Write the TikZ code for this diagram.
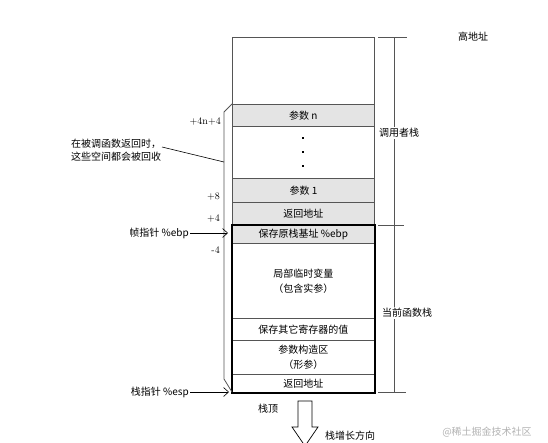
\documentclass[tikz,border=0pt]{standalone}
\usepackage{fontspec}
\newfontfamily\cjk{Noto Sans CJK SC}
\usetikzlibrary{arrows.meta}
\definecolor{cellgray}{HTML}{E4E4E4}
\definecolor{linegray}{HTML}{555555}
\tikzset{
  cell/.style={draw=linegray, line width=0.8pt, minimum width=142pt, inner sep=0pt, anchor=north west, font=\cjk\fontsize{10}{15}\selectfont, align=center},
  gcell/.style={cell, fill=cellgray},
  lbl/.style={font=\cjk\fontsize{10}{13}\selectfont, inner sep=1pt},
  off/.style={font=\fontsize{10}{10}\selectfont, anchor=east, inner sep=0pt},
  ptr/.style={draw=black, line width=0.6pt, -{Straight Barb[length=5pt,width=9pt]}},
  brk/.style={draw=linegray, line width=0.8pt}
}
\begin{document}
\begin{tikzpicture}[x=1pt,y=-1pt]
\useasboundingbox (0,0) rectangle (548,442);
% caller stack cells
\node[cell, minimum height=67pt] (top) at (232,37) {};
\node[gcell, minimum height=22pt] (pn) at (232,104) {参数 n};
\node[cell, minimum height=52pt] (dots) at (232,126) {};
\node[gcell, minimum height=24pt] (p1) at (232,178) {参数 1};
\node[gcell, minimum height=23pt] (ra1) at (232,202) {返回地址};
% current frame cells
\node[gcell, minimum height=18pt] (ebp) at (232,225) {保存原栈基址 \%ebp};
\node[cell, minimum height=75pt] (loc) at (232,243) {局部临时变量\\（包含实参）};
\node[cell, minimum height=22pt] (regs) at (232,318) {保存其它寄存器的值};
\node[cell, minimum height=34pt] (args) at (232,340) {参数构造区\\（形参）};
\node[cell, minimum height=18pt] (ra2) at (232,374) {返回地址};
\draw[line width=2.6pt] (ebp.north west) rectangle (ra2.south east);
% dots
\foreach \yy in {138,152,166} \fill (302,\yy-1) rectangle (304,\yy+1);
% right brackets
\coordinate (t1a) at (378,37); \coordinate (t1b) at (407,37);
\coordinate (t2a) at (378,225); \coordinate (t2b) at (404,225);
\coordinate (t3a) at (378,392); \coordinate (t3b) at (406,392);
\coordinate (v1) at (394,37); \coordinate (v2) at (394,225); \coordinate (v3) at (394,392);
\draw[brk] (t1a) -- (t1b) (t2a) -- (t2b) (t3a) -- (t3b) (v1) -- (v3);
\node[lbl, fill=white] (caller) at (399,133) {调用者栈};
\node[lbl, fill=white] (cur) at (407,313) {当前函数栈};
\node[lbl] (high) at (473,37) {高地址};
% left bracket
\coordinate (l1) at (232,104); \coordinate (l2) at (224,112);
\coordinate (l3) at (224,379); \coordinate (l4) at (232,392);
\draw[brk] (l1) -- (l2) -- (l3) -- (l4);
\coordinate (lm) at (224,162);
\node[lbl, align=left, anchor=west] (note) at (70,150.5) {在被调函数返回时，\\这些空间都会被回收};
\coordinate (nl) at (162,147);
\draw[line width=0.6pt] (nl) -- (lm);
% offsets
\node[off] (o1) at (221,122) {+4n+4};
\node[off] (o2) at (220,197) {+8};
\node[off] (o3) at (220,219) {+4};
\node[off] (o4) at (220,250) {-4};
% pointers
\node[lbl, anchor=east] (fp) at (190,233) {帧指针 \%ebp};
\coordinate (fpt) at (228,233);
\draw[ptr] (fp.east) -- (fpt);
\node[lbl, anchor=east] (sp) at (190,392) {栈指针 \%esp};
\coordinate (spt) at (229,392);
\draw[ptr] (sp.east) -- (spt);
% stack top and growth
\node[lbl] (stop) at (268,409) {栈顶};
\draw[line width=0.7pt, fill=white] (298,401) -- (312,401) -- (312,427) -- (318,427) -- (305,446) -- (292,427) -- (298,427) -- cycle;
\node[lbl] (grow) at (350,436) {栈增长方向};
\node[lbl, text=black!30] (wm) at (487,432) {@稀土掘金技术社区};
\end{tikzpicture}
\end{document}
